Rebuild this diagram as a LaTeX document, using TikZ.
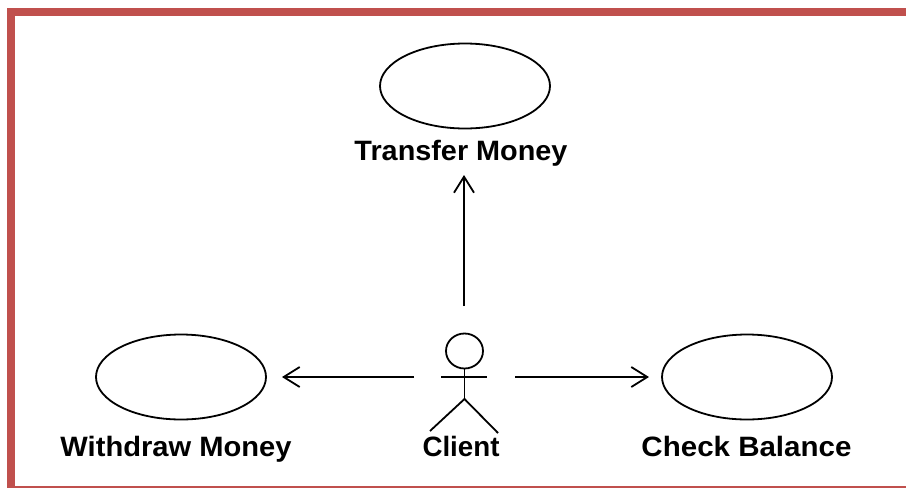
\documentclass[tikz,border=0pt]{standalone}
\usepackage{graphicx}
\usepackage{fontspec}
\setmainfont{Liberation Sans}
\usetikzlibrary{arrows.meta,shapes.geometric}
\definecolor{framered}{RGB}{192,80,77}
\newcommand{\lablbox}[2]{\resizebox{#1}{\height}{#2}}
\tikzset{
  usecase/.style={draw=black,line width=1.8pt,ellipse,minimum width=170pt,minimum height=85pt,inner sep=0pt},
  lbl/.style={font=\bfseries\fontsize{28pt}{30pt}\selectfont,text=black,inner sep=0pt,anchor=base},
  link/.style={draw=black,line width=1.8pt,-{Straight Barb[length=16pt,width=20pt,line width=1.8pt]}},
  figure/.style={draw=black,line width=1.8pt},
  frame/.style={fill=framered,draw=none}
}
\begin{document}
\begin{tikzpicture}[x=1pt,y=-1pt]
\useasboundingbox (0,0) rectangle (906,488);
\fill[white] (0,0) rectangle (906,488);
\fill[frame] (7,8) rectangle (906,16);
\fill[frame] (7,8) rectangle (15,488);
\fill[frame] (7,486) rectangle (906,488);
\node[usecase] (transfer) at (465,86) {};
\node[usecase] (withdraw) at (181,377) {};
\node[usecase] (check) at (747,377) {};
\node[lbl] (tlabel) at (461,160) {\lablbox{213pt}{Transfer Money}};
\node[lbl] (wlabel) at (176,456) {\lablbox{231pt}{Withdraw Money}};
\node[lbl] (clabel) at (461,456) {\lablbox{77pt}{Client}};
\node[lbl] (blabel) at (746.5,456) {\lablbox{210pt}{Check Balance}};
\node[draw=black,line width=1.8pt,ellipse,minimum width=37pt,minimum height=35pt,inner sep=0pt] (head) at (464.5,351) {};
\coordinate (hip) at (464.5,399);
\coordinate (armL) at (441,377);
\coordinate (armR) at (487,377);
\coordinate (legL) at (430,431);
\coordinate (legR) at (498,433);
\draw[figure] (head.south) -- (hip);
\draw[figure] (armL) -- (armR);
\draw[figure] (legL) -- (hip) -- (legR);
\coordinate (upS) at (464,306);
\coordinate (upE) at (464,175);
\coordinate (leftS) at (414,377);
\coordinate (leftE) at (282,377);
\coordinate (rightS) at (515,377);
\coordinate (rightE) at (649,377);
\draw[link] (upS) -- (upE);
\draw[link] (leftS) -- (leftE);
\draw[link] (rightS) -- (rightE);
\end{tikzpicture}
\end{document}
